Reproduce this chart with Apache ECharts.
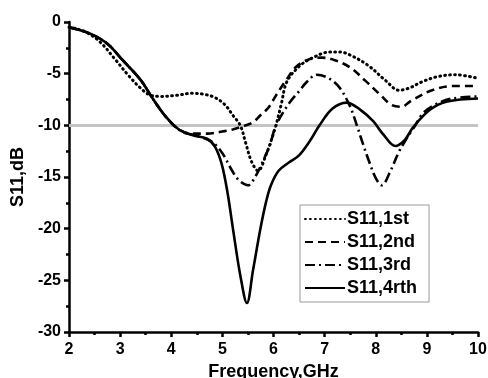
<!DOCTYPE html>
<html>
<head>
<meta charset="utf-8">
<script src="https://cdn.jsdelivr.net/npm/echarts@6/dist/echarts.min.js"></script>
<style>
  html, body { margin: 0; padding: 0; background: #fff; }
  #chart { width: 488px; height: 378px; }
</style>
</head>
<body>
<div id="chart"></div>
<script>
const seriesNames = ['S11,1st', 'S11,2nd', 'S11,3rd', 'S11,4rth'];

const freq1st = [2.0, 2.3, 2.6, 2.9, 3.15, 3.4, 3.6, 3.8, 4.1, 4.4, 4.65, 4.85, 5.05, 5.2, 5.35, 5.45, 5.57, 5.7, 5.85, 6.03, 6.15, 6.26, 6.5, 6.75, 7.1, 7.3, 7.5, 7.85, 8.2, 8.45, 8.65, 8.9, 9.2, 9.55, 10.0];
const s11_1st = [-0.5, -0.9, -1.9, -3.6, -5.1, -6.4, -7.1, -7.2, -7.1, -6.9, -7.0, -7.3, -8.0, -9.0, -10.0, -11.6, -13.5, -14.4, -12.9, -10.3, -8.0, -5.8, -4.3, -3.5, -2.9, -2.9, -3.2, -4.2, -5.7, -6.6, -6.4, -5.8, -5.3, -5.1, -5.45];

const freq2nd = [2.0, 2.4, 2.75, 3.05, 3.4, 3.65, 3.9, 4.15, 4.4, 4.7, 5.0, 5.2, 5.4, 5.6, 5.75, 5.9, 6.05, 6.25, 6.45, 6.7, 6.95, 7.2, 7.5, 7.8, 8.1, 8.3, 8.5, 8.7, 9.1, 9.5, 10.0];
const s11_2nd = [-0.5, -1.1, -2.1, -3.7, -5.6, -7.5, -9.2, -10.4, -10.8, -10.8, -10.6, -10.4, -10.1, -9.7, -9.0, -8.3, -7.1, -5.6, -4.3, -3.6, -3.45, -3.7, -4.4, -5.7, -7.1, -8.0, -8.2, -7.6, -6.6, -6.2, -6.2];

const freq3rd = [2.0, 2.4, 2.75, 3.05, 3.4, 3.65, 3.9, 4.2, 4.5, 4.8, 5.0, 5.18, 5.32, 5.5, 5.64, 5.8, 5.93, 6.05, 6.3, 6.5, 6.65, 6.85, 7.1, 7.3, 7.5, 7.63, 7.75, 7.87, 8.0, 8.12, 8.28, 8.44, 8.6, 8.75, 8.93, 9.2, 9.5, 10.0];
const s11_3rd = [-0.5, -1.1, -2.1, -3.7, -5.6, -7.5, -9.2, -10.6, -11.0, -11.6, -12.7, -14.3, -15.3, -15.8, -15.0, -13.4, -11.9, -10.0, -7.9, -6.7, -5.8, -5.1, -5.5, -6.4, -8.2, -10.0, -11.8, -13.5, -15.1, -15.8, -14.5, -12.7, -11.3, -10.2, -8.8, -7.9, -7.4, -7.2];

const freq4rth = [2.0, 2.4, 2.75, 3.05, 3.4, 3.65, 3.9, 4.15, 4.45, 4.7, 4.86, 4.99, 5.1, 5.21, 5.35, 5.48, 5.6, 5.74, 5.85, 5.95, 6.1, 6.3, 6.5, 6.7, 6.9, 7.15, 7.43, 7.7, 7.95, 8.15, 8.38, 8.57, 8.73, 9.06, 9.4, 10.0];
const s11_4rth = [-0.5, -1.1, -2.1, -3.7, -5.6, -7.5, -9.2, -10.4, -11.0, -11.3, -12.1, -13.8, -16.5, -20.1, -24.5, -27.2, -24.0, -20.1, -17.5, -15.8, -14.4, -13.6, -12.9, -11.6, -10.0, -8.4, -7.8, -8.5, -9.6, -10.9, -12.0, -11.4, -10.2, -8.5, -7.7, -7.4];

const refLevel = -10;

const freqs = [freq1st, freq2nd, freq3rd, freq4rth];
const values = [s11_1st, s11_2nd, s11_3rd, s11_4rth];
const dashTypes = [[0.8, 4.2], [8, 5], [10, 4, 2, 4], 'solid'];

const font = 'Liberation Sans, Arial, sans-serif';

const chart = echarts.init(document.getElementById('chart'));

const series = seriesNames.map((name, i) => ({
  name: name,
  type: 'line',
  smooth: 0.35,
  symbol: 'none',
  data: freqs[i].map((f, k) => [f, values[i][k]]),
  lineStyle: {
    color: '#000',
    width: i === 0 ? 3 : 2.6,
    type: dashTypes[i],
    cap: i === 0 ? 'round' : 'butt'
  },
  itemStyle: { color: '#000' },
  z: 3
}));

series[0].markLine = {
  silent: true,
  symbol: 'none',
  label: { show: false },
  lineStyle: { color: '#c4c4c4', width: 3, type: 'solid' },
  data: [{ yAxis: refLevel }],
  z: 1
};

const axisText = { fontFamily: font, fontWeight: 'bold', fontSize: 16, color: '#000' };
const nameText = { fontFamily: font, fontWeight: 'bold', fontSize: 18, color: '#000' };

const option = {
  animation: false,
  grid: { left: 69, right: 10, top: 22, bottom: 46, outerBoundsMode: 'none', containLabel: false },
  legend: {
    orient: 'vertical',
    left: 300,
    top: 205,
    itemWidth: 40,
    itemHeight: 14,
    itemGap: 5,
    padding: [5, 12, 5, 4],
    borderColor: '#999',
    borderWidth: 1,
    backgroundColor: '#fff',
    itemStyle: { opacity: 0 },
    textStyle: { fontFamily: font, fontWeight: 'bold', fontSize: 18, color: '#000', padding: [0, 0, 0, -3] },
    data: seriesNames
  },
  xAxis: {
    type: 'value',
    min: 2,
    max: 10,
    interval: 1,
    name: 'Frequency,GHz',
    nameLocation: 'middle',
    nameGap: 27,
    nameTextStyle: nameText,
    axisLine: { onZero: false, lineStyle: { color: '#000', width: 2.5 } },
    axisTick: { length: 5, lineStyle: { width: 2.5, color: '#000' } },
    minorTick: { show: true, splitNumber: 2, length: 3, lineStyle: { width: 2.5, color: '#000' } },
    axisLabel: Object.assign({ margin: 10 }, axisText),
    splitLine: { show: false }
  },
  yAxis: {
    type: 'value',
    min: -30,
    max: 0,
    interval: 5,
    name: 'S11,dB',
    nameLocation: 'middle',
    nameGap: 42,
    nameTextStyle: nameText,
    axisLine: { show: true, onZero: false, lineStyle: { color: '#000', width: 2.5 } },
    axisTick: { show: true, length: 5, lineStyle: { width: 2.5, color: '#000' } },
    minorTick: { show: true, splitNumber: 2, length: 3, lineStyle: { width: 2.5, color: '#000' } },
    axisLabel: Object.assign({ margin: 8 }, axisText),
    splitLine: { show: false }
  },
  series: series
};

chart.setOption(option);
</script>
</body>
</html>
